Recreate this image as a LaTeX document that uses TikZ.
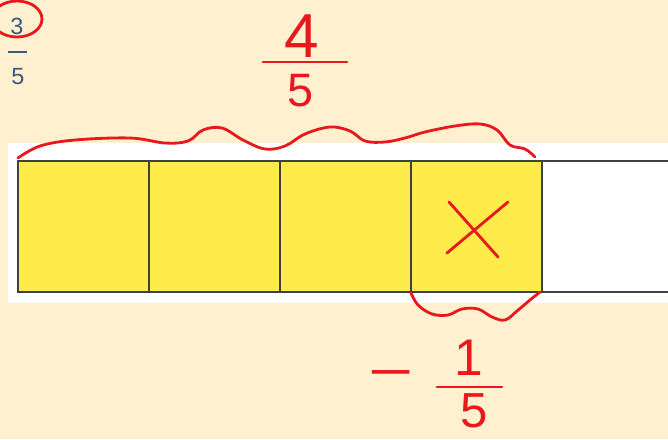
\documentclass[tikz,border=0pt]{standalone}
\usepackage{fontspec}
\setmainfont{Liberation Sans}
\definecolor{cream}{HTML}{FFF1D0}
\definecolor{bary}{HTML}{FFEC4A}
\definecolor{pen}{HTML}{E8181C}
\definecolor{ink}{HTML}{3B5A80}
\begin{document}
\begin{tikzpicture}[x=0.03cm,y=-0.03cm,
  cell/.style={draw=black!75,line width=0.9pt,minimum width=3.93cm,minimum height=3.93cm,inner sep=0pt,outer sep=0pt},
  redpen/.style={draw=pen,line width=2.4pt,line cap=round,line join=round},
  reddigit/.style={text=pen,inner sep=0pt,font=\fontsize{#1}{#1}\selectfont},
  bluedigit/.style={text=ink,inner sep=0pt,font=\fontsize{20}{20}\selectfont}]
\useasboundingbox (0,0) rectangle (668,439);
\clip (0,0) rectangle (668,439);
\fill[cream] (0,0) rectangle (668,439);
\fill[white] (8,143) rectangle (668,303);
% cells
\node[cell,fill=bary] (b1) at (83.5,226.5) {};
\node[cell,fill=bary] (b2) at (214.5,226.5) {};
\node[cell,fill=bary] (b3) at (345.5,226.5) {};
\node[cell,fill=bary] (b4) at (476.5,226.5) {};
\node[cell,fill=white] (b5) at (607.5,226.5) {};
% cross
\draw[redpen] (447,253) -- (508,202);
\draw[redpen] (449,202) -- (498,257);
% top brace
\draw[redpen] plot[smooth,tension=0.6] coordinates {(18,158) (40,146) (75,140) (130,138) (165,143) (188,141) (203,130) (222,128) (243,140) (265,149) (285,146) (305,134) (330,127) (350,131) (365,141) (385,142) (405,138) (425,132) (455,126) (480,124) (497,130) (510,145) (525,149) (535,157)};
% bottom brace
\draw[redpen] plot[smooth,tension=0.6] coordinates {(411,293) (418,305) (432,314) (448,315) (462,309) (478,309) (492,317) (505,320) (517,311) (530,300) (540,292)};
% 4/5
\node[reddigit=53] (n4) at (302,36) {4};
\draw[redpen] (263,62) -- (347,62);
\node[reddigit=40] (d5) at (301,91) {5};
% -1/5
\node[reddigit=44] (minus) at (391,380) {\scalebox{1.5}[1]{\char"2212}};
\node[reddigit=44] (n1) at (469,358) {1};
\draw[redpen] (437,387) -- (502,387);
\node[reddigit=42] (d5b) at (474,411) {5};
% 3/5 top-left
\node[bluedigit] (t3) at (17,26) {3};
\draw[ink,line width=1.2pt] (8,52) -- (27,52);
\node[bluedigit] (t5) at (18,77) {5};
\draw[redpen] (17,19) ellipse[x radius=25,y radius=18];
\end{tikzpicture}
\end{document}
